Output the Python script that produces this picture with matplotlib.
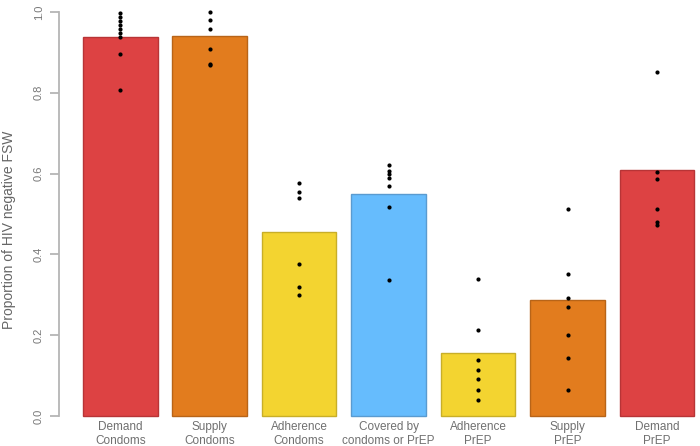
import matplotlib
matplotlib.use("Agg")
import matplotlib.pyplot as plt
from matplotlib import font_manager as fm
import numpy as np

categories = ["Demand\nCondoms", "Supply\nCondoms", "Adherence\nCondoms",
              "Covered by\ncondoms or PrEP", "Adherence\nPrEP", "Supply\nPrEP",
              "Demand\nPrEP"]
bar_values = [0.939, 0.940, 0.456, 0.549, 0.156, 0.287, 0.609]
points_demand_condoms = [0.998, 0.988, 0.978, 0.968, 0.959, 0.949, 0.939, 0.896, 0.806]
points_supply_condoms = [0.999, 0.979, 0.959, 0.908, 0.871, 0.869]
points_adherence_condoms = [0.576, 0.555, 0.540, 0.377, 0.320, 0.300]
points_covered = [0.621, 0.607, 0.599, 0.590, 0.570, 0.517, 0.337]
points_adherence_prep = [0.338, 0.213, 0.139, 0.115, 0.092, 0.064, 0.040]
points_supply_prep = [0.512, 0.352, 0.293, 0.271, 0.200, 0.143, 0.065]
points_demand_prep = [0.851, 0.603, 0.587, 0.512, 0.480, 0.473]
point_sets = [points_demand_condoms, points_supply_condoms, points_adherence_condoms,
              points_covered, points_adherence_prep, points_supply_prep,
              points_demand_prep]
yticks = [0.0, 0.2, 0.4, 0.6, 0.8, 1.0]
ylabel = "Proportion of HIV negative FSW"

fills = ["#DD4243", "#E27C1E", "#F3D430", "#66BCFD", "#F3D430", "#E27C1E", "#DD4243"]
edges = ["#B83436", "#B86418", "#C8AE28", "#5A9BD0", "#C8AE28", "#B86418", "#B83436"]

names = {f.name for f in fm.fontManager.ttflist}
fam = "Liberation Sans Narrow" if "Liberation Sans Narrow" in names else "Liberation Sans"
plt.rcParams["font.family"] = [fam, "DejaVu Sans"]

W, H = 700, 446
fig = plt.figure(figsize=(W / 100, H / 100), dpi=100)
left_px, bottom_px = 58.5, 432
ax = fig.add_axes([left_px / W, 1 - bottom_px / H, 1 - left_px / W, bottom_px / H])

pos = 0.7 + 1.2 * np.arange(len(categories))
ax.bar(pos, bar_values, width=1.0, color=fills, edgecolor=edges, linewidth=1.0, zorder=2)
for x, pts in zip(pos, point_sets):
    ax.scatter(np.full(len(pts), x), pts, s=9, color="black", zorder=3, linewidths=0)

ax.set_xlim(-0.128, -0.128 + (W - left_px) / 74.55)
ax.set_ylim(-(bottom_px - 416) / 404, 416 / 404)

for s in ["top", "right", "bottom"]:
    ax.spines[s].set_visible(False)
ax.spines["left"].set_bounds(0, 1)
ax.spines["left"].set_color("#b5b5b5")
ax.spines["left"].set_linewidth(1.3)

ax.set_yticks(yticks)
ax.set_yticklabels([f"{v:.1f}" for v in yticks], rotation=90, va="center",
                   fontsize=8, color="#777777")
ax.tick_params(axis="y", length=6.5, width=1.3, color="#b5b5b5", pad=4)
ax.set_xticks([])
for x, lab in zip(pos, categories):
    ax.annotate(lab, xy=(x, 0), xytext=(0, -3.5), textcoords="offset points",
                ha="center", va="top", fontsize=8.5, color="#707070",
                linespacing=1.25, annotation_clip=False)

fig.text(9 / W, 1 - 230 / H, ylabel, rotation=90, ha="center", va="center",
         fontsize=10, color="#666666")

fig.savefig("out.png", dpi=100)
